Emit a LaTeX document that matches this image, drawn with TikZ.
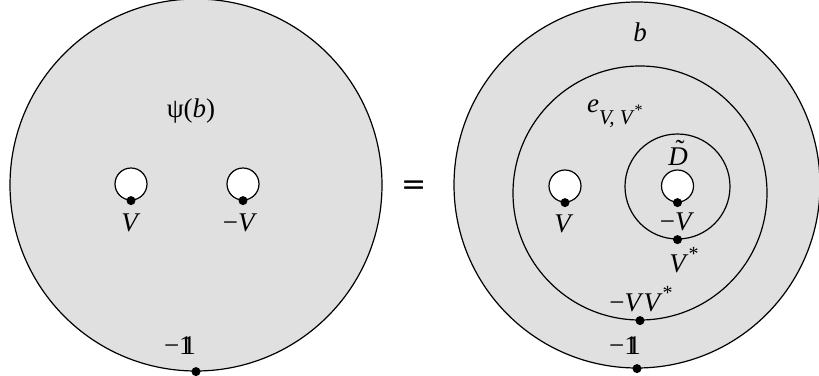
\documentclass[tikz,border=0pt]{standalone}
\usepackage{fontspec}
\setmainfont{Liberation Serif}
\newfontfamily\eqfont{DejaVu Sans}
\definecolor{bggray}{RGB}{224,224,224}
\tikzset{
  disc/.style={circle, draw, line width=1.2pt, inner sep=0pt, minimum size=#1},
  hole/.style={circle, draw, fill=white, line width=1.2pt, inner sep=0pt, minimum size=32pt},
  pt/.style={circle, fill=black, inner sep=0pt, minimum size=9pt},
  lbl/.style={inner sep=0pt, font=\fontsize{27}{31}\selectfont}
}
\newcommand{\mV}{\textit{V}}
\newcommand{\mneg}{\char"2212}
\newcommand{\dsone}{\rlap{1}\kern0.12em 1}
\newcommand{\myast}{\raisebox{0.95ex}{\fontsize{20}{22}\selectfont *}}
\begin{document}
\begin{tikzpicture}[x=1pt,y=-1pt]
\useasboundingbox (0,0) rectangle (819,375);
% left picture
\node[disc=372pt, fill=bggray] (outerL) at (196,185) {};
\node[hole] (hL1) at (131,184) {};
\node[hole] (hL2) at (243,184) {};
\node[pt] (dL1) at (hL1.south) {};
\node[pt] (dL2) at (hL2.south) {};
\node[pt] (dL3) at (outerL.south) {};
\node[lbl] (psi) at (191,111) {ψ(\textit{b})};
\node[lbl] (lV1) at (131,223) {\mV};
\node[lbl] (lV2) at (240,223) {\mneg\mV};
\node[lbl] (lOne) at (180,346) {\mneg\dsone};
% equals
\node[inner sep=0pt, font=\eqfont\fontsize{30}{30}\selectfont] (eq) at (414,188) {=};
% right picture
\node[disc=366pt, fill=bggray] (outerR) at (637,185) {};
\node[disc=254pt] (midR) at (640,193) {};
\node[disc=105pt] (inR) at (677.5,186.5) {};
\node[hole] (hR1) at (565,186) {};
\node[hole] (hR2) at (677.5,186) {};
\node[pt] (dR1) at (hR1.south) {};
\node[pt] (dR2) at (hR2.south) {};
\node[pt] (dR3) at (inR.south) {};
\node[pt] (dR4) at (midR.south) {};
\node[pt] (dR5) at (outerR.south) {};
\node[lbl] (lb) at (640,32) {\textit{b}};
\node[lbl, anchor=base west] (le) at (587,112) {\textit{e}\raisebox{-1.0ex}{\fontsize{21}{24}\selectfont\textit{V, V}\raisebox{0.9ex}{\fontsize{16}{18}\selectfont *}}};
\node[lbl] (lD) at (678,153) {\textit{D}\llap{\raisebox{0.28em}{\char"02DC}\kern0.12em}};
\node[lbl] (lV3) at (564,224) {\mV};
\node[lbl] (lV4) at (677,222) {\mneg\mV};
\node[lbl] (lVs) at (684,260) {\mV\myast};
\node[lbl] (lVV) at (641,299) {\mneg\mV\mV\myast};
\node[lbl] (lOne2) at (625,346) {\mneg\dsone};
\end{tikzpicture}
\end{document}
